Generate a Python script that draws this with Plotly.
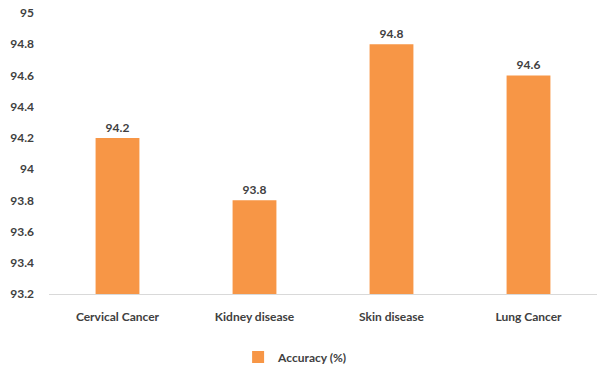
import plotly.graph_objects as go

categories = ["Cervical Cancer", "Kidney disease", "Skin disease", "Lung Cancer"]
accuracy = [94.2, 93.8, 94.8, 94.6]
series_name = "Accuracy (%)"
tick_vals = [93.2, 93.4, 93.6, 93.8, 94.0, 94.2, 94.4, 94.6, 94.8, 95.0]
tick_text = ["93.2", "93.4", "93.6", "93.8", "94", "94.2", "94.4", "94.6", "94.8", "95"]

font_fam = "Lato, Carlito, Calibri, sans-serif"
txt_col = "#404040"

fig = go.Figure(go.Bar(
    x=categories, y=accuracy, name=series_name,
    marker=dict(color="#F79646", line=dict(width=0)),
    text=[f"{v:.1f}" for v in accuracy], textposition="outside",
    textfont=dict(family=font_fam, size=12, color=txt_col, weight="bold"),
    cliponaxis=False, width=0.32, showlegend=True,
))

fig.update_layout(
    width=602, height=375,
    margin=dict(l=49, r=5, t=13, b=81, autoexpand=False),
    paper_bgcolor="white", plot_bgcolor="white",
    font=dict(family=font_fam, size=12, color=txt_col),
    yaxis=dict(range=[93.2, 95.0], tickvals=tick_vals, ticktext=tick_text,
               showgrid=False, zeroline=False, showline=False, ticks="",
               automargin=False,
               tickfont=dict(family=font_fam, size=12, color=txt_col, weight="bold"),
               ticklabelstandoff=14),
    xaxis=dict(showline=True, linecolor="#D9D9D9", linewidth=1, ticks="",
               automargin=False,
               tickfont=dict(family=font_fam, size=12, color=txt_col, weight="bold"),
               ticklabelstandoff=12),
    legend=dict(orientation="h", x=0.45, xanchor="center", y=-0.224, yanchor="middle",
                itemwidth=30,
                font=dict(family=font_fam, size=12, color=txt_col, weight="bold")),
    bargap=0.68,
)

fig.write_html("out.html", config={"displayModeBar": False},
               post_script="document.body.style.margin='0px';")
